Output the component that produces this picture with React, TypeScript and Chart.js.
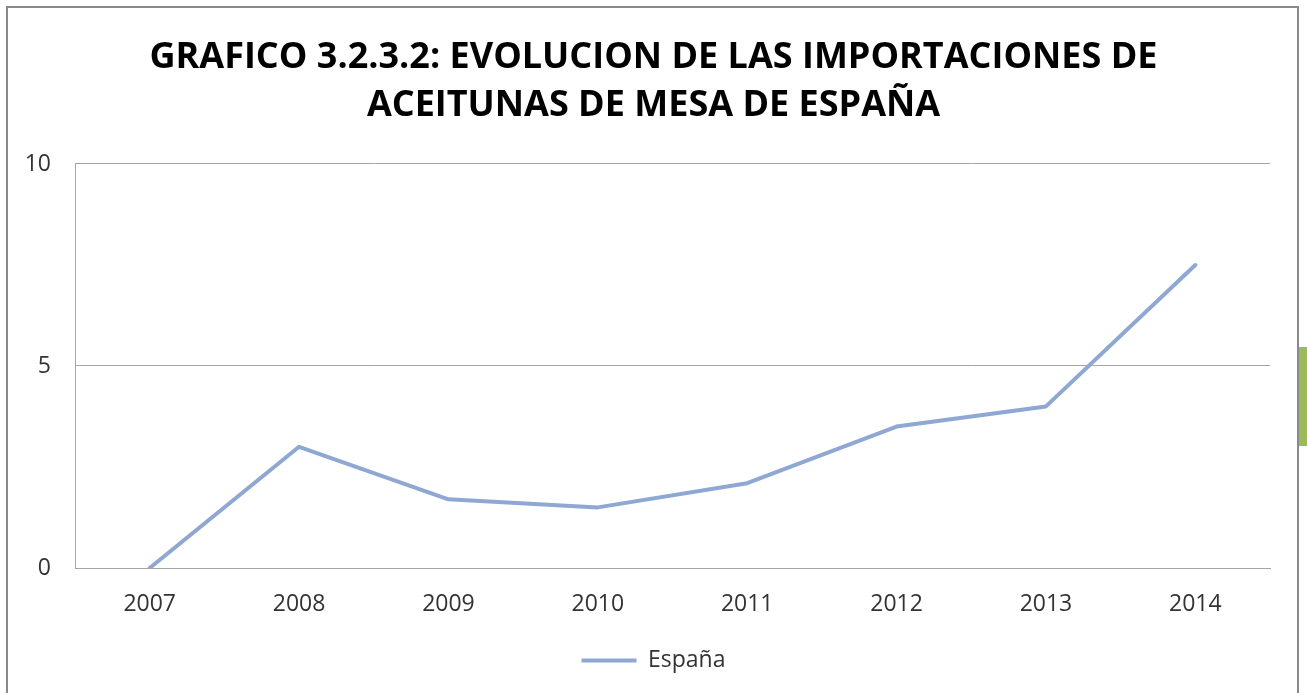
import React, { useEffect, useRef } from "react";
import { Chart, registerables } from "chart.js";

Chart.register(...registerables);

const years: string[] = ["2007", "2008", "2009", "2010", "2011", "2012", "2013", "2014"];
const espana: number[] = [0, 3.0, 1.7, 1.5, 2.1, 3.5, 4.0, 7.5];
const yTickValues: number[] = [0, 5, 10];
const titleLines: string[] = [
  "GRAFICO 3.2.3.2: EVOLUCION DE LAS IMPORTACIONES DE",
  "ACEITUNAS DE MESA DE ESPAÑA",
];
const seriesLabel = "España";

const FONT = "'Open Sans', 'DejaVu Sans', sans-serif";
const LINE_COLOR = "#8EA7D3";
const GRID_COLOR = "#A6A6A6";
const TEXT_COLOR = "#333333";

export default function App() {
  const ref = useRef<HTMLCanvasElement | null>(null);

  useEffect(() => {
    if (!ref.current) return;
    const chart = new Chart(ref.current, {
      type: "line",
      data: {
        labels: years,
        datasets: [
          {
            label: seriesLabel,
            data: espana,
            borderColor: LINE_COLOR,
            backgroundColor: LINE_COLOR,
            borderWidth: 4,
            pointRadius: 0,
            pointHoverRadius: 0,
            tension: 0,
            borderCapStyle: "round",
            borderJoinStyle: "round",
            fill: false,
            yAxisID: "y",
          },
        ],
      },
      options: {
        responsive: false,
        animation: false,
        layout: { padding: { left: 0, right: 0, top: 0, bottom: 11 } },
        plugins: {
          title: {
            display: true,
            text: titleLines,
            color: "#000000",
            font: { family: FONT, size: 36, weight: "bold", lineHeight: 1.3333 },
            padding: { top: 34, bottom: 34 },
          },
          legend: {
            display: true,
            position: "bottom",
            labels: {
              color: TEXT_COLOR,
              font: { family: FONT, size: 23 },
              usePointStyle: true,
              pointStyle: "line",
              pointStyleWidth: 55,
              boxHeight: 4,
              padding: 10,
            },
          },
          tooltip: { enabled: false },
        },
        scales: {
          x: {
            offset: true,
            grid: { display: false, drawTicks: false },
            border: { display: true, color: GRID_COLOR, width: 1 },
            ticks: {
              color: TEXT_COLOR,
              font: { family: FONT, size: 23 },
              padding: 23,
              maxRotation: 0,
              autoSkip: false,
            },
            afterFit: (scale: any) => {
              scale.height = 71;
            },
          },
          y: {
            position: "left",
            min: 0,
            max: 10,
            afterBuildTicks: (scale: any) => {
              scale.ticks = yTickValues.map((v) => ({ value: v }));
            },
            grid: { color: GRID_COLOR, lineWidth: 1, drawTicks: false },
            border: { display: true, color: GRID_COLOR, width: 1 },
            ticks: {
              color: TEXT_COLOR,
              font: { family: FONT, size: 23 },
              padding: 24,
            },
            afterFit: (scale: any) => {
              scale.width = 75;
            },
          },
          yRight: {
            position: "right",
            display: true,
            min: 0,
            max: 10,
            grid: { display: false, drawTicks: false },
            border: { display: false },
            ticks: { display: false },
            afterFit: (scale: any) => {
              scale.width = 37;
            },
          },
        },
      },
    });
    return () => chart.destroy();
  }, []);

  return (
    <div
      style={{
        position: "fixed",
        left: 0,
        top: 0,
        width: 1307,
        height: 693,
        background: "#ffffff",
        overflow: "hidden",
      }}
    >
      <canvas
        ref={ref}
        width={1307}
        height={693}
        style={{ position: "absolute", left: 0, top: 0, width: 1307, height: 693 }}
      />
      <div
        style={{
          position: "absolute",
          left: 6,
          top: 6,
          width: 1289,
          height: 720,
          border: "2px solid #8A8A8A",
          pointerEvents: "none",
        }}
      />
      <div
        style={{
          position: "absolute",
          left: 1299,
          top: 347,
          width: 8,
          height: 99,
          background: "#9BBB59",
        }}
      />
    </div>
  );
}
